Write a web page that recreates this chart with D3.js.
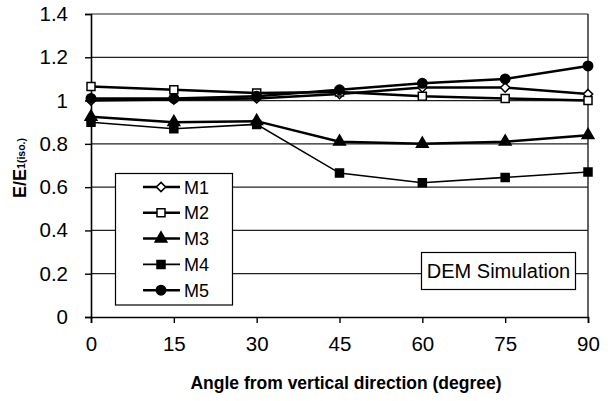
<!DOCTYPE html>
<html>
<head>
<meta charset="utf-8">
<script src="https://cdn.jsdelivr.net/npm/d3@7"></script>
<style>
  html, body { margin: 0; padding: 0; background: #fff; }
  svg { display: block; font-family: "Liberation Sans", Arial, sans-serif; }
</style>
</head>
<body>
<svg id="chart" width="610" height="401"></svg>
<script>
// Angles (degrees) and modulus ratios for each model
const angles = [0, 15, 30, 45, 60, 75, 90];
const m1 = [1.00, 1.005, 1.01, 1.03, 1.06, 1.06, 1.03];
const m2 = [1.065, 1.05, 1.035, 1.04, 1.02, 1.01, 1.00];
const m3 = [0.925, 0.90, 0.905, 0.81, 0.80, 0.81, 0.84];
const m4 = [0.90, 0.87, 0.89, 0.665, 0.62, 0.645, 0.67];
const m5 = [1.01, 1.01, 1.02, 1.05, 1.08, 1.10, 1.16];
const seriesNames = ["M1", "M2", "M3", "M4", "M5"];
const yTicks = [0, 0.2, 0.4, 0.6, 0.8, 1, 1.2, 1.4];
const xTicks = [0, 15, 30, 45, 60, 75, 90];

const series = [
  { name: seriesNames[0], values: m1, shape: "diamond", fill: "#fff", width: 2.5 },
  { name: seriesNames[1], values: m2, shape: "square", fill: "#fff", width: 2.5 },
  { name: seriesNames[2], values: m3, shape: "triangle", fill: "#000", width: 2.5 },
  { name: seriesNames[3], values: m4, shape: "square", fill: "#000", width: 1.6 },
  { name: seriesNames[4], values: m5, shape: "circle", fill: "#000", width: 2.5 }
];

const svg = d3.select("#chart");
const plotLeft = 91, plotRight = 588, plotTop = 14, plotBottom = 317;

const x = d3.scaleLinear().domain([0, 90]).range([plotLeft, plotRight]);
const y = d3.scaleLinear().domain([0, 1.4]).range([plotBottom, plotTop]);

// horizontal gridlines
svg.append("g").selectAll("line").data(yTicks.slice(1)).join("line")
  .attr("x1", plotLeft).attr("x2", plotRight)
  .attr("y1", d => y(d)).attr("y2", d => y(d))
  .attr("stroke", "#222").attr("stroke-width", 1.2);

// right border
svg.append("line").attr("x1", plotRight).attr("x2", plotRight).attr("y1", plotTop).attr("y2", plotBottom)
  .attr("stroke", "#222").attr("stroke-width", 1.4);

// axes
const xAxis = d3.axisBottom(x).tickValues(xTicks).tickSize(6).tickPadding(13).tickFormat(d3.format("d"));
const yAxis = d3.axisLeft(y).tickValues(yTicks).tickSize(6).tickPadding(17).tickFormat(d => d === 0 ? "0" : String(+d.toFixed(1)));

const gx = svg.append("g").attr("transform", `translate(0,${plotBottom})`).call(xAxis);
const gy = svg.append("g").attr("transform", `translate(${plotLeft},0)`).call(yAxis);
[gx, gy].forEach(g => {
  g.select(".domain").attr("stroke", "#000").attr("stroke-width", 1.6);
  g.selectAll(".tick line").attr("stroke", "#000").attr("stroke-width", 1.4);
  g.selectAll(".tick text").attr("fill", "#000").attr("font-size", 20.5)
    .attr("font-family", "'Liberation Sans', Arial, sans-serif");
});

// marker drawing
function marker(sel, shape, fill) {
  const sym = {
    diamond: d3.symbol().type(d3.symbolDiamond2).size(55),
    square: d3.symbol().type(d3.symbolSquare).size(64),
    triangle: d3.symbol().type(d3.symbolTriangle).size(60),
    circle: d3.symbol().type(d3.symbolCircle).size(70)
  }[shape];
  sel.append("path").attr("d", sym())
    .attr("fill", fill).attr("stroke", "#000").attr("stroke-width", 1.5);
}

const line = d3.line().x((d, i) => x(angles[i])).y(d => y(d));

series.forEach(s => {
  const g = svg.append("g");
  g.append("path").datum(s.values).attr("d", line)
    .attr("fill", "none").attr("stroke", "#000").attr("stroke-width", s.width);
  s.values.forEach((v, i) => {
    const m = g.append("g").attr("transform", `translate(${x(angles[i])},${y(v)})`);
    marker(m, s.shape, s.fill);
  });
});

// legend
const lg = svg.append("g");
lg.append("rect").attr("x", 115.5).attr("y", 173.5).attr("width", 117).attr("height", 131.5)
  .attr("fill", "#fff").attr("stroke", "#000").attr("stroke-width", 1.2);
series.forEach((s, i) => {
  const cy = 187 + i * 25.8;
  lg.append("line").attr("x1", 143).attr("x2", 180).attr("y1", cy).attr("y2", cy)
    .attr("stroke", "#000").attr("stroke-width", s.width);
  marker(lg.append("g").attr("transform", `translate(161,${cy})`), s.shape, s.fill);
  lg.append("text").attr("x", 184).attr("y", cy + 6.5).text(s.name)
    .attr("font-size", 18).attr("fill", "#000");
});

// annotation box
const ag = svg.append("g");
ag.append("rect").attr("x", 421.5).attr("y", 252.5).attr("width", 154).attr("height", 37)
  .attr("fill", "#fff").attr("stroke", "#000").attr("stroke-width", 1.2);
ag.append("text").attr("x", 498.5).attr("y", 278).attr("text-anchor", "middle")
  .attr("font-size", 20).attr("fill", "#000").text("DEM Simulation");

// axis titles
svg.append("text").attr("x", 346).attr("y", 389).attr("text-anchor", "middle")
  .attr("font-size", 17.5).attr("font-weight", "bold").attr("fill", "#000")
  .text("Angle from vertical direction (degree)");

const yt = svg.append("text").attr("transform", "translate(26,168) rotate(-90)")
  .attr("text-anchor", "middle").attr("font-weight", "bold").attr("fill", "#000");
yt.append("tspan").attr("font-size", 18).text("E/E");
yt.append("tspan").attr("font-size", 10.5).attr("dy", -1).text("1(iso.)");
</script>
</body>
</html>
